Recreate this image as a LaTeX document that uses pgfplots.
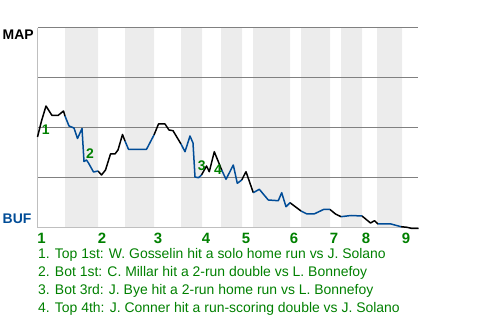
\documentclass[border=0pt]{standalone}
\usepackage{pgfplots}
\pgfplotsset{compat=1.18}
\usepackage{fontspec}
\setmainfont{Liberation Sans}
\definecolor{mapblue}{RGB}{0,76,151}
\definecolor{evgreen}{RGB}{0,128,0}
\definecolor{band}{RGB}{236,236,236}
\begin{document}
\begin{tikzpicture}
\path (0bp,0bp) rectangle (480bp,320bp);
\begin{axis}[
  set layers,
  at={(37.5bp,92bp)}, anchor=south west,
  width=380bp, height=200bp, scale only axis,
  xmin=0, xmax=380, ymin=0, ymax=100,
  axis x line*=bottom, axis y line*=left,
  axis line style={draw=black!25, line width=1bp, -},
  ytick={25,50,75,100}, yticklabels={},
  ymajorgrids, grid style={draw=black!50, line width=1bp},
  major tick length=0,
  xtick={4,64.5,120.5,168.5,208.5,256.5,296.5,328.5,368.5},
  xticklabels={1,2,3,4,5,6,7,8,9},
  xticklabel style={font=\bfseries\fontsize{15}{15}\selectfont, text=evgreen, anchor=base, yshift=-15.3bp},
  clip=false,
]
\addplot[const plot, fill=band, draw=none, on layer=axis background] coordinates {(0,0)(27.5,100)(60.5,0)(87.5,100)(116.5,0)(143.5,100)(164.5,0)(183.5,100)(204.5,0)(215.5,100)(252.5,0)(263.5,100)(292.5,0)(303.5,100)(324.5,0)(339.5,100)(364.5,0)(379.5,0)} \closedcycle;
% top halves (black)
\addplot[black, line width=1.5bp, line join=round] coordinates {(0,45.5)(4,53.5)(8.5,61)(14.5,56.25)(20.5,56.25)(26,58.5)(27.5,56)};
\addplot[black, line width=1.5bp, line join=round] coordinates {(60.5,28.5)(64,26.5)(68,29)(73,37)(77.5,37)(80.5,39)(85,46.75)(87.5,43.5)};
\addplot[black, line width=1.5bp, line join=round] coordinates {(116.5,46.5)(121,52)(127.5,52)(131.5,49)(135.5,48.65)(143.5,42)};
\addplot[black, line width=1.5bp, line join=round] coordinates {(164,26.5)(169,31)(171.8,28.15)(176.8,38.15)(184.2,29)};
\addplot[black, line width=1.5bp, line join=round] coordinates {(204.2,24)(208.5,28.15)(215.8,17.65)};
\addplot[black, line width=1.5bp, line join=round] coordinates {(252.5,12.65)(263.5,8.5)};
\addplot[black, line width=1.5bp, line join=round] coordinates {(292.5,9.25)(298,7)(303.5,5.65)};
\addplot[black, line width=1.5bp, line join=round] coordinates {(324.5,6)(333,2.5)(337,3.65)(340.5,2)};
\addplot[black, line width=1.5bp, line join=round] coordinates {(363.5,0.65)(369.5,0.35)(374.5,-0.25)(381,-0.25)};
% bottom halves (blue)
\addplot[mapblue, line width=1.5bp, line join=round] coordinates {(27.5,56)(31.5,51)(36.5,50)(40,44.75)(44.5,49.75)(46.5,33.25)(49,34)(51,32.5)(56,28)(60.5,28.5)};
\addplot[mapblue, line width=1.5bp, line join=round] coordinates {(87.5,43.5)(91,39.35)(109,39.35)(116.5,46.5)};
\addplot[mapblue, line width=1.5bp, line join=round] coordinates {(143.5,42)(147.5,38.15)(152.5,46)(155.5,42.5)(157.5,25.5)(161,25.15)(164,26.5)};
\addplot[mapblue, line width=1.5bp, line join=round] coordinates {(184.2,29)(188.5,24.35)(195.8,31.5)(199.8,22.35)(204.2,24)};
\addplot[mapblue, line width=1.5bp, line join=round] coordinates {(215.8,17.65)(221.8,19.35)(230.8,14)(240.8,13.65)(244.2,17.65)(248.5,10.65)(252.5,12.65)};
\addplot[mapblue, line width=1.5bp, line join=round] coordinates {(263.5,8.5)(269.5,7)(276.5,7)(286,9.25)(292.5,9.25)};
\addplot[mapblue, line width=1.5bp, line join=round] coordinates {(303.5,5.65)(313.5,6.25)(324.5,6)};
\addplot[mapblue, line width=1.5bp, line join=round] coordinates {(340.5,2)(353.5,2)(363.5,0.65)};
% event labels
\node[font=\bfseries\fontsize{14}{14}\selectfont, text=evgreen] at (axis cs:8.2,49) {1};
\node[font=\bfseries\fontsize{14}{14}\selectfont, text=evgreen] at (axis cs:52.5,37.3) {2};
\node[font=\bfseries\fontsize{14}{14}\selectfont, text=evgreen] at (axis cs:164.2,31) {3};
\node[font=\bfseries\fontsize{14}{14}\selectfont, text=evgreen] at (axis cs:180.5,29.3) {4};
\end{axis}
\node[anchor=base west, font=\bfseries\fontsize{14}{14}\selectfont, inner sep=0] at (2.5bp,280bp) {MAP};
\node[anchor=base west, font=\bfseries\fontsize{14}{14}\selectfont, text=mapblue, inner sep=0] at (2.5bp,96.7bp) {BUF};
\begin{scope}[every node/.style={anchor=base west, inner sep=0, text=evgreen, font=\fontsize{14}{14}\selectfont}]
\node at (38bp,61bp) {1. Top 1st: W. Gosselin hit a solo home run vs J. Solano};
\node at (38bp,43.2bp) {2. Bot 1st: C. Millar hit a 2-run double vs L. Bonnefoy};
\node at (38bp,25.4bp) {3. Bot 3rd: J. Bye hit a 2-run home run vs L. Bonnefoy};
\node at (38bp,7.6bp) {4. Top 4th: J. Conner hit a run-scoring double vs J. Solano};
\end{scope}
\end{tikzpicture}
\end{document}
